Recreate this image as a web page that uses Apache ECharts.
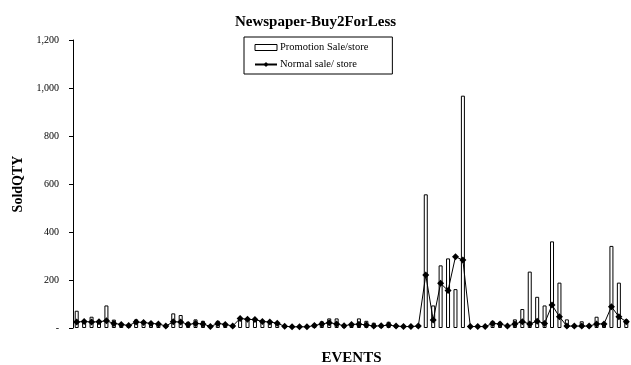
<!DOCTYPE html>
<html>
<head>
<meta charset="utf-8">
<script src="https://cdn.jsdelivr.net/npm/echarts@6/dist/echarts.min.js"></script>
<style>
  html, body { margin: 0; padding: 0; background: #fff; }
  #chart { width: 631px; height: 365px; }
</style>
</head>
<body>
<div id="chart"></div>
<script>
// Sold quantity per store for each newspaper event
const events = Array.from({ length: 75 }, (_, i) => 'Event ' + (i + 1));

const promotionSale = [
  72, 33, 47, 30, 94, 35, 20, 15, 36, 30,
  26, 20, 12, 61, 54, 26, 36, 30, 10, 30,
  20, 10, 44, 43, 38, 33, 30, 25, 8, 6,
  6, 6, 18, 28, 40, 40, 12, 18, 40, 30,
  22, 10, 26, 10, 6, 6, 8, 557, 94, 261,
  290, 162, 968, 8, 8, 8, 30, 26, 10, 36,
  79, 235, 130, 94, 361, 189, 36, 10, 28, 10,
  47, 18, 342, 189, 36
];

const normalSale = [
  25, 27, 25, 26, 30, 19, 15, 10, 25, 23,
  19, 17, 8, 26, 25, 15, 19, 17, 6, 19,
  15, 8, 40, 36, 35, 27, 25, 20, 7, 5,
  5, 5, 10, 17, 22, 17, 9, 15, 16, 13,
  8, 9, 12, 8, 6, 6, 8, 221, 33, 186,
  156, 297, 283, 6, 6, 6, 19, 17, 8, 17,
  26, 17, 28, 19, 96, 47, 8, 8, 8, 8,
  17, 17, 89, 47, 26
];

const yTicks = [0, 200, 400, 600, 800, 1000, 1200];

const serif = '"Liberation Serif", "Times New Roman", serif';

const chart = echarts.init(document.getElementById('chart'), null, { renderer: 'canvas' });

chart.setOption({
  animation: false,
  backgroundColor: '#fff',
  title: {
    text: 'Newspaper-Buy2ForLess',
    left: 'center',
    top: 10,
    textStyle: { fontFamily: serif, fontSize: 15, fontWeight: 'bold', color: '#000' }
  },
  legend: {
    orient: 'vertical',
    left: 244,
    top: 37,
    padding: [5, 24, 4, 10],
    itemGap: 6,
    itemWidth: 22,
    itemHeight: 6,
    borderColor: '#000',
    borderWidth: 1,
    borderRadius: 0,
    textStyle: { fontFamily: serif, fontSize: 10.5, color: '#000', padding: [0, 0, 0, -2] },
    data: [
      { name: 'Promotion Sale/store', icon: 'rect', itemStyle: { borderWidth: 1 } },
      { name: 'Normal sale/ store' }
    ]
  },
  grid: { left: 73, right: 1, top: 40, bottom: 37, outerBoundsMode: 'none', containLabel: false },
  xAxis: {
    type: 'category',
    data: events,
    name: 'EVENTS',
    nameLocation: 'middle',
    nameGap: 23,
    nameTextStyle: { fontFamily: serif, fontSize: 15, fontWeight: 'bold', color: '#000' },
    axisLine: { show: false },
    axisTick: { show: false },
    axisLabel: { show: false },
    splitLine: { show: false }
  },
  yAxis: {
    type: 'value',
    min: yTicks[0],
    max: yTicks[yTicks.length - 1],
    interval: 200,
    name: 'SoldQTY',
    nameLocation: 'middle',
    nameGap: 31,
    nameTextStyle: { fontFamily: serif, fontSize: 14, fontWeight: 'bold', color: '#000' },
    axisLine: { show: true, lineStyle: { color: '#000', width: 1 } },
    axisTick: { show: true, length: 4, lineStyle: { color: '#000' } },
    axisLabel: {
      fontFamily: serif,
      fontSize: 10,
      color: '#000',
      margin: 14,
      formatter: v => (v === 0 ? '-' : v.toLocaleString('en-US'))
    },
    splitLine: { show: false }
  },
  series: [
    {
      name: 'Promotion Sale/store',
      type: 'bar',
      data: promotionSale,
      barWidth: 4,
      itemStyle: { color: '#fff', borderColor: '#000', borderWidth: 1 }
    },
    {
      name: 'Normal sale/ store',
      type: 'line',
      data: normalSale,
      symbol: 'diamond',
      symbolSize: 7,
      showAllSymbol: true,
      z: 5,
      lineStyle: { color: '#000', width: 1 },
      itemStyle: { color: '#000' }
    }
  ]
});
</script>
</body>
</html>
